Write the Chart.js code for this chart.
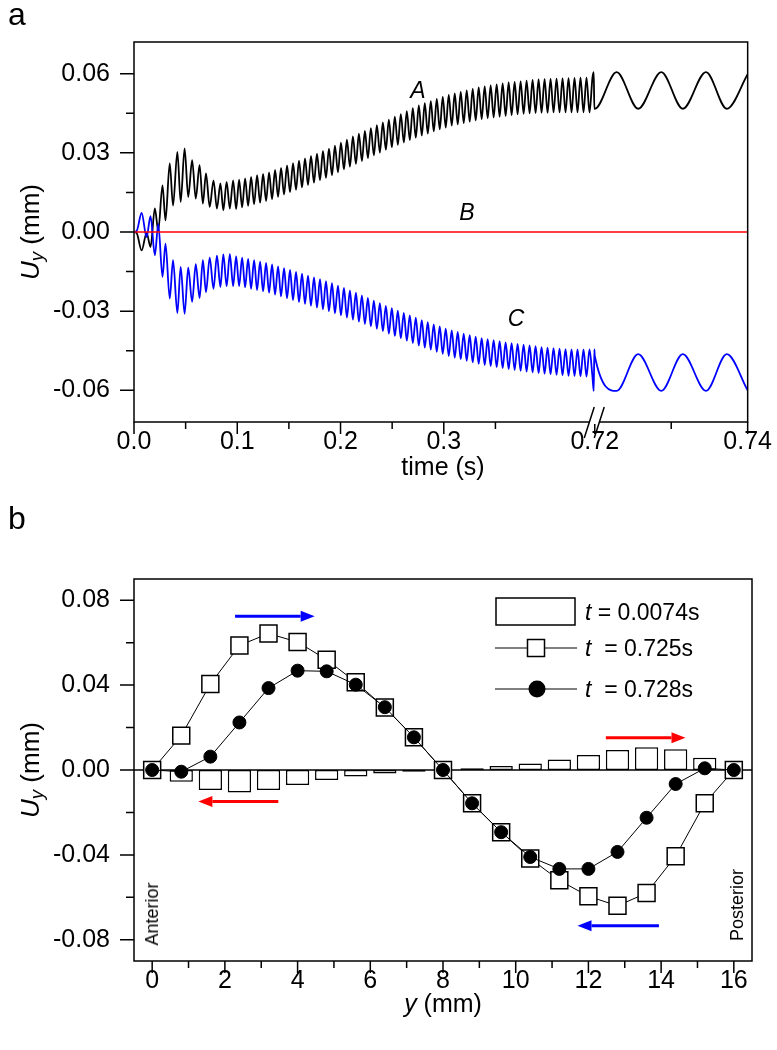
<!DOCTYPE html>
<html><head><meta charset="utf-8">
<script src="https://cdn.jsdelivr.net/npm/chart.js@4.4.0/dist/chart.umd.min.js"></script>
<style>
html,body{margin:0;padding:0;background:#fff;}
#wrap{position:relative;width:777px;height:1050px;overflow:hidden;background:#fff;font-family:"Liberation Sans",Arial,sans-serif;color:#000;}
canvas{position:absolute;left:0;}
.t{position:absolute;white-space:nowrap;line-height:1;}
.c{transform:translate(-50%,-50%);}
.r{transform:translate(-50%,-50%) rotate(-90deg);}
.l{transform:translate(0,-50%);}
sub{font-size:0.72em;vertical-align:-0.25em;}
</style></head><body>
<div id="wrap">
<canvas id="ca" width="777" height="490" style="top:0px"></canvas>
<canvas id="cb" width="777" height="560" style="top:490px"></canvas>

<div class="t" style="left:8px;top:-2px;font-size:32px;">a</div>
<div class="t" style="left:8px;top:502px;font-size:32px;">b</div>

<div class="t r" style="left:32px;top:232px;font-size:26px;"><i>U</i><sub><i>y</i></sub> (mm)</div>
<div class="t r" style="left:32px;top:770px;font-size:26px;"><i>U</i><sub><i>y</i></sub> (mm)</div>
<div class="t c" style="left:443px;top:466px;font-size:25px;">time (s)</div>
<div class="t c" style="left:443px;top:1003px;font-size:25px;"><i>y</i> (mm)</div>

<div class="t c" style="left:418px;top:90px;font-size:23px;"><i>A</i></div>
<div class="t c" style="left:467px;top:212px;font-size:23px;"><i>B</i></div>
<div class="t c" style="left:516px;top:318px;font-size:23px;"><i>C</i></div>

<div class="t r" style="left:152px;top:914px;font-size:18px;">Anterior</div>
<div class="t r" style="left:737px;top:905px;font-size:18px;">Posterior</div>

<div class="t l" style="left:585px;top:612px;font-size:23px;"><i>t</i> = 0.0074s</div>
<div class="t l" style="left:585px;top:648px;font-size:23px;"><i>t</i>&nbsp; = 0.725s</div>
<div class="t l" style="left:585px;top:689px;font-size:23px;"><i>t</i>&nbsp; = 0.728s</div>
</div>
<script>
// ---------------- Panel a data ----------------
// start-up transient: times (s) of successive extrema and the values there
const EARLY_T = [0, 0.0025, 0.0074, 0.0122, 0.0160, 0.0202, 0.0235, 0.0276, 0.0305, 0.0346, 0.0378, 0.0420, 0.0452, 0.0490,
                 0.0525, 0.0563, 0.0598, 0.0635, 0.0667, 0.0697, 0.0733, 0.0770, 0.0803, 0.0837, 0.0865, 0.0897, 0.0928, 0.0960];
const EARLY_A = [0, -0.0003, -0.0070, -0.0003, -0.0057, 0.0089, 0.0005, 0.0177, 0.0044, 0.0260, 0.0100, 0.0304, 0.0114, 0.0317,
                 0.0133, 0.0272, 0.0127, 0.0253, 0.0108, 0.0222, 0.0095, 0.0196, 0.0089, 0.0184, 0.0082, 0.0190, 0.0089, 0.0196];
const EARLY_C = [0, 0.0003, 0.0072, -0.0019, 0.0060, -0.0088, 0.0030, -0.0170, -0.0044, -0.0252, -0.0107, -0.0307, -0.0132, -0.0310,
                 -0.0135, -0.0265, -0.0122, -0.0250, -0.0107, -0.0228, -0.0097, -0.0215, -0.0090, -0.0208, -0.0085, -0.0205, -0.0084, -0.0205];
// steady part: successive extrema (trough / peak) every HALF_PERIOD s, from MAIN_T0
const MAIN_T0 = 0.0989, HALF_PERIOD = 0.0029;
const MAIN_A = [
 0.0087, 0.0198, 0.0093, 0.0203, 0.0099, 0.0209, 0.0105, 0.0215, 0.0111, 0.0220,
 0.0117, 0.0226, 0.0124, 0.0235, 0.0133, 0.0243, 0.0142, 0.0252, 0.0151, 0.0261,
 0.0160, 0.0270, 0.0169, 0.0279, 0.0178, 0.0288, 0.0187, 0.0297, 0.0196, 0.0307,
 0.0205, 0.0316, 0.0215, 0.0327, 0.0226, 0.0339, 0.0237, 0.0350, 0.0248, 0.0362,
 0.0258, 0.0373, 0.0269, 0.0383, 0.0280, 0.0394, 0.0290, 0.0405, 0.0301, 0.0415,
 0.0312, 0.0426, 0.0321, 0.0437, 0.0330, 0.0447, 0.0339, 0.0458, 0.0348, 0.0469,
 0.0357, 0.0480, 0.0366, 0.0488, 0.0373, 0.0496, 0.0381, 0.0504, 0.0389, 0.0512,
 0.0396, 0.0520, 0.0403, 0.0525, 0.0408, 0.0531, 0.0413, 0.0537, 0.0418, 0.0542,
 0.0423, 0.0548, 0.0428, 0.0552, 0.0431, 0.0556, 0.0434, 0.0559, 0.0437, 0.0563,
 0.0440, 0.0567, 0.0443, 0.0569, 0.0446, 0.0571, 0.0448, 0.0574, 0.0450, 0.0576,
 0.0451, 0.0578, 0.0452, 0.0579, 0.0452, 0.0580, 0.0453, 0.0581, 0.0453, 0.0582,
 0.0453, 0.0583, 0.0453, 0.0584, 0.0453, 0.0585, 0.0453, 0.0585, 0.0453, 0.0586
];
const MAIN_C = [
 -0.0092, -0.0205, -0.0097, -0.0210, -0.0102, -0.0215, -0.0107, -0.0220, -0.0112, -0.0225,
 -0.0117, -0.0230, -0.0123, -0.0237, -0.0130, -0.0244, -0.0137, -0.0251, -0.0144, -0.0258,
 -0.0151, -0.0265, -0.0158, -0.0272, -0.0165, -0.0279, -0.0172, -0.0286, -0.0179, -0.0293,
 -0.0186, -0.0300, -0.0194, -0.0308, -0.0203, -0.0316, -0.0212, -0.0324, -0.0221, -0.0332,
 -0.0230, -0.0340, -0.0240, -0.0349, -0.0250, -0.0358, -0.0260, -0.0367, -0.0270, -0.0376,
 -0.0280, -0.0385, -0.0289, -0.0394, -0.0298, -0.0403, -0.0307, -0.0412, -0.0316, -0.0421,
 -0.0325, -0.0430, -0.0334, -0.0438, -0.0342, -0.0446, -0.0350, -0.0454, -0.0358, -0.0462,
 -0.0366, -0.0470, -0.0373, -0.0476, -0.0379, -0.0482, -0.0385, -0.0488, -0.0391, -0.0494,
 -0.0397, -0.0500, -0.0402, -0.0504, -0.0406, -0.0508, -0.0410, -0.0512, -0.0414, -0.0516,
 -0.0418, -0.0520, -0.0421, -0.0523, -0.0424, -0.0526, -0.0427, -0.0529, -0.0430, -0.0532,
 -0.0433, -0.0535, -0.0436, -0.0537, -0.0438, -0.0539, -0.0440, -0.0541, -0.0442, -0.0543,
 -0.0444, -0.0545, -0.0445, -0.0546, -0.0445, -0.0547, -0.0445, -0.0548, -0.0445, -0.0550
];
// vertical jump drawn at the axis break
const BREAK_T = [0.4452, 0.4458];
const BREAK_A = [0.0606, 0.0467];
const BREAK_C = [-0.0602, -0.0445];
// after the break (0.72 - 0.74 s)
const RIGHT_T = [0.72000, 0.72286, 0.72568, 0.72870, 0.73152, 0.73455, 0.73727, 0.74000];
const RIGHT_A = [0.0467, 0.0606, 0.0467, 0.0606, 0.0467, 0.0606, 0.0467, 0.0598];
const RIGHT_C = [-0.0470, -0.0602, -0.0463, -0.0602, -0.0463, -0.0602, -0.0463, -0.0600];
// curve B
const CURVE_B_T = [0, 0.4458, 0.72, 0.74];
const CURVE_B = [0, 0, 0, 0];
// axis of panel a (broken time axis)
const A_LEFT_END = 0.4452, A_RIGHT_START = 0.72, A_RIGHT_END = 0.74;
const A_BREAK_GAP = 0.001, A_RIGHT_STRETCH = 7.404;
const A_XTICKS = [0, 0.1, 0.2, 0.3, 0.72, 0.74];
const A_XTICK_LABELS = ['0.0', '0.1', '0.2', '0.3', '0.72', '0.74'];
const A_XMINOR = [0.05, 0.15, 0.25, 0.35, 0.73];
const A_YTICKS = [-0.06, -0.03, 0, 0.03, 0.06];
const A_YMINOR = [-0.045, -0.015, 0.015, 0.045];

// ---------------- Panel b data ----------------
const Y_POS = [0, 0.8, 1.6, 2.4, 3.2, 4.0, 4.8, 5.6, 6.4, 7.2, 8.0, 8.8, 9.6, 10.4, 11.2, 12.0, 12.8, 13.6, 14.4, 15.2, 16.0];
const U_T0074 = [0, -0.0055, -0.0094, -0.0106, -0.0094, -0.0071, -0.0047, -0.0031, -0.0016, -0.0008, 0,
                 0.0008, 0.0019, 0.0031, 0.0050, 0.0071, 0.0094, 0.0107, 0.0098, 0.0058, 0];
const U_T0725 = [0, 0.0162, 0.0405, 0.0587, 0.0643, 0.0603, 0.0520, 0.0414, 0.0294, 0.0154, 0,
                 -0.0157, -0.0293, -0.0417, -0.0520, -0.0595, -0.0640, -0.0580, -0.0406, -0.0157, 0];
const U_T0728 = [0, -0.0008, 0.0063, 0.0224, 0.0386, 0.0468, 0.0465, 0.0402, 0.0296, 0.0154, 0,
                 -0.0157, -0.0293, -0.0410, -0.0466, -0.0466, -0.0386, -0.0225, -0.0066, 0.0008, 0];
const B_XTICKS = [0, 2, 4, 6, 8, 10, 12, 14, 16];
const B_XMINOR = [1, 3, 5, 7, 9, 11, 13, 15];
const B_YTICKS = [-0.08, -0.04, 0, 0.04, 0.08];
const B_YMINOR = [-0.06, -0.02, 0.02, 0.06];
// direction arrows [from y, to y, at U_y, colour]
const ARROW_FROM = [2.28, 3.47, 12.48, 13.94];
const ARROW_TO   = [4.47, 1.27, 14.67, 11.70];
const ARROW_AT   = [0.0725, -0.0149, 0.0152, -0.0734];
const ARROW_COLOR = ['#0000ff', '#ff0000', '#ff0000', '#0000ff'];

// ---------------- helpers ----------------
function toU(t) {
  return t < A_RIGHT_START ? t : A_LEFT_END + A_BREAK_GAP + (t - A_RIGHT_START) * A_RIGHT_STRETCH;
}
function buildCurve(early, main, brk, rv) {
  const pts = early.map((v, i) => ({x: toU(EARLY_T[i]), y: v}));
  main.forEach((v, k) => pts.push({x: toU(MAIN_T0 + k * HALF_PERIOD), y: v}));
  BREAK_T.forEach((t, i) => pts.push({x: toU(t), y: brk[i]}));
  RIGHT_T.forEach((t, i) => pts.push({x: toU(t), y: rv[i]}));
  return pts;
}

Chart.defaults.font.family = "'Liberation Sans', Arial, sans-serif";
Chart.defaults.font.size = 25;
Chart.defaults.color = '#000';

const framePlugin = {
  id: 'frameTicks',
  afterDraw(chart, args, o) {
    const ctx = chart.ctx, a = chart.chartArea, xs = chart.scales.x, ys = chart.scales.y;
    ctx.save();
    ctx.strokeStyle = '#000'; ctx.lineWidth = 1.5;
    ctx.beginPath();
    o.xMajor.forEach(v => { const p = xs.getPixelForValue(v); ctx.moveTo(p, a.bottom); ctx.lineTo(p, a.bottom + 12); });
    o.xMinor.forEach(v => { const p = xs.getPixelForValue(v); ctx.moveTo(p, a.bottom); ctx.lineTo(p, a.bottom + 7); });
    o.yMajor.forEach(v => { const p = ys.getPixelForValue(v); ctx.moveTo(a.left, p); ctx.lineTo(a.left - 14, p); });
    o.yMinor.forEach(v => { const p = ys.getPixelForValue(v); ctx.moveTo(a.left, p); ctx.lineTo(a.left - 8, p); });
    ctx.stroke();
    ctx.strokeRect(a.left, a.top, a.right - a.left, a.bottom - a.top);
    if (o.breakAt !== undefined) {
      const bx = xs.getPixelForValue(o.breakAt);
      ctx.fillStyle = '#fff';
      ctx.fillRect(bx - 5, a.bottom - 2, 10, 4);
      ctx.lineWidth = 1.5;
      ctx.beginPath();
      [-5, 5].forEach(d => { ctx.moveTo(bx + d - 5, a.bottom + 16); ctx.lineTo(bx + d + 5, a.bottom - 15); });
      ctx.stroke();
    }
    ctx.restore();
  }
};

// ---------------- Panel a chart ----------------
const breakU = (toU(A_LEFT_END) + toU(A_RIGHT_START)) / 2;
new Chart(document.getElementById('ca'), {
  type: 'line',
  data: {
    datasets: [
      {data: CURVE_B_T.map((t, i) => ({x: toU(t), y: CURVE_B[i]})), borderColor: '#ff0000', borderWidth: 1.7, pointRadius: 0, order: 0},
      {data: buildCurve(EARLY_C, MAIN_C, BREAK_C, RIGHT_C), borderColor: '#0000ff', borderWidth: 1.8, pointRadius: 0, cubicInterpolationMode: 'monotone', order: 1},
      {data: buildCurve(EARLY_A, MAIN_A, BREAK_A, RIGHT_A), borderColor: '#000000', borderWidth: 1.8, pointRadius: 0, cubicInterpolationMode: 'monotone', order: 2}
    ]
  },
  options: {
    responsive: false, animation: false, events: [],
    layout: {padding: {left: 0, right: 25, top: 42, bottom: 0}},
    plugins: {legend: {display: false}, tooltip: {enabled: false},
      frameTicks: {xMajor: A_XTICKS.map(toU), xMinor: A_XMINOR.map(toU), yMajor: A_YTICKS, yMinor: A_YMINOR, breakAt: breakU}},
    scales: {
      x: {type: 'linear', min: 0, max: toU(A_RIGHT_END), grid: {display: false, drawTicks: false}, border: {display: false},
          afterBuildTicks: s => { s.ticks = A_XTICKS.map(t => ({value: toU(t)})); },
          afterFit: s => { s.height = 68; },
          ticks: {autoSkip: false, maxRotation: 0, padding: 5, callback: (v, i) => A_XTICK_LABELS[i]}},
      y: {type: 'linear', min: -0.072, max: 0.072, grid: {display: false, drawTicks: false}, border: {display: false},
          afterBuildTicks: s => { s.ticks = A_YTICKS.map(v => ({value: v})); },
          afterFit: s => { s.width = 134; },
          ticks: {autoSkip: false, padding: 24, callback: v => v.toFixed(2)}}
    }
  },
  plugins: [framePlugin]
});

// ---------------- Panel b chart ----------------
const arrowPlugin = {
  id: 'extras',
  beforeDatasetsDraw(chart) {
    const ctx = chart.ctx, a = chart.chartArea, y0 = chart.scales.y.getPixelForValue(0);
    ctx.save(); ctx.strokeStyle = '#000'; ctx.lineWidth = 1.5;
    ctx.beginPath(); ctx.moveTo(a.left, y0); ctx.lineTo(a.right, y0); ctx.stroke(); ctx.restore();
  },
  afterDraw(chart) {
    const ctx = chart.ctx, xs = chart.scales.x, ys = chart.scales.y;
    ctx.save();
    ARROW_FROM.forEach((f, i) => {
      const x0 = xs.getPixelForValue(f), x1 = xs.getPixelForValue(ARROW_TO[i]), y = ys.getPixelForValue(ARROW_AT[i]);
      const dir = Math.sign(x1 - x0), hl = 14, hw = 5.5;
      ctx.strokeStyle = ARROW_COLOR[i]; ctx.fillStyle = ARROW_COLOR[i]; ctx.lineWidth = 3;
      ctx.beginPath(); ctx.moveTo(x0, y); ctx.lineTo(x1 - dir * hl, y); ctx.stroke();
      ctx.beginPath(); ctx.moveTo(x1, y); ctx.lineTo(x1 - dir * hl, y - hw); ctx.lineTo(x1 - dir * hl, y + hw); ctx.closePath(); ctx.fill();
    });
    // legend samples
    ctx.strokeStyle = '#000'; ctx.lineWidth = 1.5; ctx.fillStyle = '#fff';
    ctx.strokeRect(496, 108, 79, 27);
    ctx.lineWidth = 1;
    ctx.beginPath(); ctx.moveTo(495, 158); ctx.lineTo(577, 158); ctx.moveTo(495, 199); ctx.lineTo(577, 199); ctx.stroke();
    ctx.lineWidth = 1.5;
    ctx.fillRect(527.5, 149.5, 17, 17); ctx.strokeRect(527.5, 149.5, 17, 17);
    ctx.fillStyle = '#000'; ctx.beginPath(); ctx.arc(537, 199, 8.5, 0, Math.PI * 2); ctx.fill();
    ctx.restore();
  }
};

new Chart(document.getElementById('cb'), {
  type: 'bar',
  data: {
    datasets: [
      {type: 'line', data: Y_POS.map((y, i) => ({x: y, y: U_T0728[i]})), borderColor: '#000', borderWidth: 1,
       pointStyle: 'circle', pointRadius: 6.5, pointBackgroundColor: '#000', pointBorderColor: '#000', pointBorderWidth: 1, order: 0},
      {type: 'line', data: Y_POS.map((y, i) => ({x: y, y: U_T0725[i]})), borderColor: '#000', borderWidth: 1,
       pointStyle: 'rect', pointRadius: 12, pointBackgroundColor: '#fff', pointBorderColor: '#000', pointBorderWidth: 1.5, order: 1},
      {type: 'bar', data: Y_POS.map((y, i) => ({x: y, y: U_T0074[i]})), backgroundColor: '#fff', borderColor: '#000',
       borderWidth: 1.5, borderSkipped: false, barPercentage: 0.8, categoryPercentage: 1.0, order: 2}
    ]
  },
  options: {
    responsive: false, animation: false, events: [],
    layout: {padding: {left: 0, right: 25, top: 89, bottom: 0}},
    plugins: {legend: {display: false}, tooltip: {enabled: false},
      frameTicks: {xMajor: B_XTICKS, xMinor: B_XMINOR, yMajor: B_YTICKS, yMinor: B_YMINOR}},
    scales: {
      x: {type: 'linear', min: -0.5, max: 16.5, offset: false, grid: {display: false, drawTicks: false}, border: {display: false},
          afterBuildTicks: s => { s.ticks = B_XTICKS.map(v => ({value: v})); },
          afterFit: s => { s.height = 89; },
          ticks: {autoSkip: false, maxRotation: 0, padding: 5, callback: v => String(v)}},
      y: {type: 'linear', min: -0.09, max: 0.09, grid: {display: false, drawTicks: false}, border: {display: false},
          afterBuildTicks: s => { s.ticks = B_YTICKS.map(v => ({value: v})); },
          afterFit: s => { s.width = 134; },
          ticks: {autoSkip: false, padding: 24, callback: v => v.toFixed(2)}}
    }
  },
  plugins: [framePlugin, arrowPlugin]
});
</script>
</body></html>
